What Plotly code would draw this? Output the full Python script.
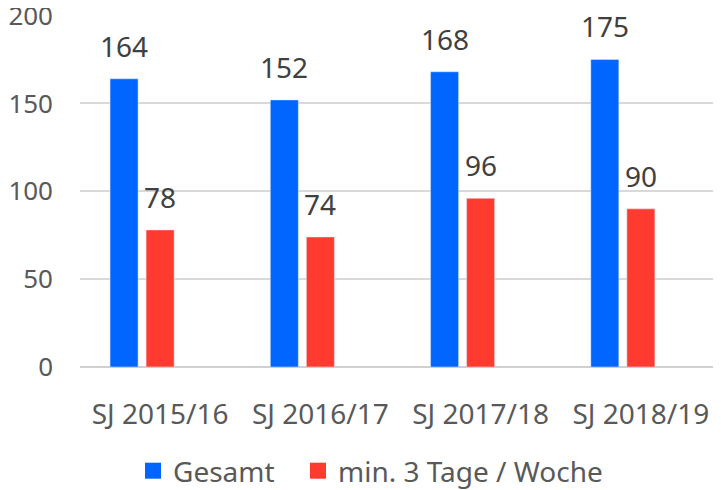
import plotly.graph_objects as go

categories = ["SJ 2015/16", "SJ 2016/17", "SJ 2017/18", "SJ 2018/19"]
gesamt = [164, 152, 168, 175]
min3 = [78, 74, 96, 90]
series_names = ["Gesamt", "min. 3 Tage / Woche"]
y_ticks = [0, 50, 100, 150, 200]

BLUE = "#0066FF"
RED = "#FF3B30"
FONT = "Noto Sans"
W, H = 713, 482  # page body adds an 8px margin

fig = go.Figure()
fig.add_trace(go.Bar(x=categories, y=gesamt, name=series_names[0], marker_color=BLUE,
                     width=0.175, offset=-0.3125, showlegend=False))
fig.add_trace(go.Bar(x=categories, y=min3, name=series_names[1], marker_color=RED,
                     width=0.175, offset=-0.0875, showlegend=False))
# legend proxies, one legend each so spacing can match
for nm, col, lg in zip(series_names, [BLUE, RED], ["legend", "legend2"]):
    fig.add_trace(go.Scatter(x=[None], y=[None], mode="markers", name=nm, legend=lg,
                             marker=dict(symbol="square", size=16, color=col)))

for vals, xs in ((gesamt, -36), (min3, 0)):
    for c, v in zip(categories, vals):
        fig.add_annotation(x=c, y=v, text=str(v), showarrow=False, xshift=xs,
                           yanchor="bottom", yshift=12,
                           font=dict(family=FONT, size=28, color="#404040"))

leg_common = dict(orientation="h", xref="container", xanchor="left",
                  yref="container", y=(H - 463) / H, yanchor="middle",
                  font=dict(size=28, color="#595959"), itemclick=False,
                  bgcolor="rgba(0,0,0,0)")
fig.update_layout(
    width=W, height=H,
    margin=dict(l=72, r=0, t=7, b=123, autoexpand=False),
    paper_bgcolor="white", plot_bgcolor="white",
    font=dict(family=FONT, size=28, color="#595959"),
    showlegend=True,
    legend=dict(x=125 / W, **leg_common),
    legend2=dict(x=290 / W, **leg_common),
)
fig.update_yaxes(range=[0, 200.3], tickvals=y_ticks, showgrid=True, gridcolor="#D9D9D9",
                 gridwidth=1.5, zeroline=True, zerolinecolor="#D0D0D0", zerolinewidth=2,
                 showline=False, ticks="", ticklabelstandoff=26, automargin=False,
                 ticklabeloverflow="allow", tickfont=dict(size=26))
fig.update_xaxes(type="category", showgrid=False, showline=False, ticks="",
                 ticklabelstandoff=28, tickangle=0, automargin=False)

fig.write_html("out.html")
